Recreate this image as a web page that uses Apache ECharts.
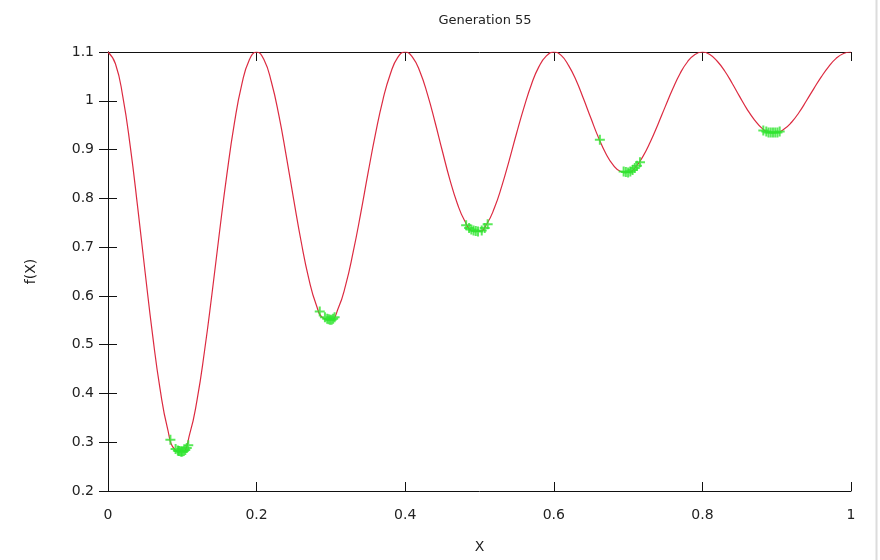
<!DOCTYPE html>
<html>
<head>
<meta charset="utf-8">
<title>Generation 55</title>
<script src="https://cdn.jsdelivr.net/npm/echarts@6/dist/echarts.min.js"></script>
<style>
  html, body { margin: 0; padding: 0; background: #fff; }
  #chart { width: 880px; height: 560px; }
</style>
</head>
<body>
<div id="chart"></div>
<script>
const curveY = [
  1.100, 1.076, 1.008, 0.906, 0.781, 0.648, 0.520, 0.410, 0.329, 0.285,
  0.281, 0.317, 0.388, 0.488, 0.605, 0.730, 0.849, 0.953, 1.033, 1.083,
  1.100, 1.084, 1.038, 0.970, 0.886, 0.797, 0.711, 0.637, 0.583, 0.554,
  0.551, 0.575, 0.623, 0.690, 0.768, 0.852, 0.932, 1.002, 1.055, 1.089,
  1.100, 1.089, 1.059, 1.013, 0.957, 0.897, 0.839, 0.790, 0.754, 0.734,
  0.732, 0.748, 0.780, 0.825, 0.878, 0.934, 0.987, 1.034, 1.070, 1.092,
  1.100, 1.093, 1.072, 1.042, 1.004, 0.964, 0.925, 0.892, 0.868, 0.855,
  0.853, 0.864, 0.886, 0.916, 0.951, 0.988, 1.024, 1.056, 1.080, 1.095,
  1.100, 1.095, 1.081, 1.061, 1.036, 1.009, 0.983, 0.961, 0.944, 0.935,
  0.935, 0.942, 0.956, 0.976, 1.000, 1.025, 1.049, 1.070, 1.087, 1.097,
  1.100
]

// population of generation 55 (green crosses)
const popX = [
  0.084, 0.091, 0.094, 0.096, 0.098, 0.100, 0.102, 0.104, 0.106, 0.108, 0.095, 0.099,
  0.285, 0.292, 0.295, 0.297, 0.299, 0.301, 0.303, 0.305,
  0.482, 0.486, 0.489, 0.492, 0.495, 0.498, 0.503, 0.507, 0.511,
  0.662,
  0.694, 0.697, 0.700, 0.703, 0.706, 0.709, 0.712, 0.716,
  0.882, 0.886, 0.889, 0.892, 0.895, 0.898, 0.901, 0.904
]
const popY = [
  0.305, 0.286, 0.283, 0.282, 0.281, 0.281, 0.282, 0.284, 0.288, 0.294, 0.282, 0.281,
  0.568, 0.556, 0.553, 0.552, 0.551, 0.551, 0.553, 0.556,
  0.745, 0.739, 0.736, 0.734, 0.733, 0.732, 0.734, 0.739, 0.747,
  0.920,
  0.855, 0.854, 0.853, 0.855, 0.858, 0.862, 0.867, 0.874,
  0.939, 0.937, 0.935, 0.935, 0.935, 0.935, 0.935, 0.937
]

const xTicks = { min: 0, max: 1, interval: 0.2 }
const yTicks = { min: 0.2, max: 1.1, interval: 0.1 }

const font = 'DejaVu Sans'
const fmt = v => String(Math.round(v * 10) / 10)

const myChart = echarts.init(document.getElementById('chart'), null, { renderer: 'canvas' })

const axisLine = { show: true, lineStyle: { color: '#111', width: 1 } }
const tick = { show: true, inside: true, length: 9, lineStyle: { color: '#111', width: 1 } }

const option = {
  animation: false,
  backgroundColor: '#fff',
  title: {
    text: 'Generation 55',
    left: 480,
    textAlign: 'center',
    top: 9,
    textStyle: { fontFamily: font, fontSize: 13, fontWeight: 'normal', color: '#222' }
  },
  grid: { left: 108, right: 29, top: 52, bottom: 69, containLabel: false },
  xAxis: [
    {
      type: 'value',
      min: xTicks.min, max: xTicks.max, interval: xTicks.interval,
      position: 'bottom',
      name: 'X',
      nameLocation: 'middle',
      nameGap: 49,
      nameTextStyle: { fontFamily: font, fontSize: 14, color: '#222' },
      axisLine: axisLine,
      axisTick: tick,
      splitLine: { show: false },
      axisLabel: { fontFamily: font, fontSize: 14, color: '#222', margin: 17, formatter: fmt }
    },
    {
      type: 'value',
      min: xTicks.min, max: xTicks.max, interval: xTicks.interval,
      position: 'top',
      axisLine: axisLine,
      axisTick: tick,
      splitLine: { show: false },
      axisLabel: { show: false }
    }
  ],
  yAxis: [
    {
      type: 'value',
      min: yTicks.min, max: yTicks.max, interval: yTicks.interval,
      position: 'left',
      name: 'f(X)',
      nameLocation: 'middle',
      nameGap: 70,
      nameTextStyle: { fontFamily: font, fontSize: 14, color: '#222' },
      axisLine: axisLine,
      axisTick: tick,
      splitLine: { show: false },
      axisLabel: { fontFamily: font, fontSize: 14, color: '#222', margin: 14, formatter: fmt }
    },
    {
      type: 'value',
      min: yTicks.min, max: yTicks.max, interval: yTicks.interval,
      position: 'right',
      axisLine: axisLine,
      axisTick: tick,
      splitLine: { show: false },
      axisLabel: { show: false }
    }
  ],
  graphic: [
    {
      // faint frame edge on the right of the screenshot
      type: 'line',
      shape: { x1: 876.5, y1: 0, x2: 876.5, y2: 560 },
      style: { stroke: '#dcdcdc', lineWidth: 2 },
      silent: true
    }
  ],
  series: [
    {
      name: 'f(x)',
      type: 'line',
      xAxisIndex: 0,
      yAxisIndex: 0,
      smooth: true,
      showSymbol: false,
      lineStyle: { color: '#dc2a40', width: 1.2 },
      data: curveY.map((y, i) => [i / 100, y]),
      z: 2
    },
    {
      name: 'population',
      type: 'scatter',
      xAxisIndex: 0,
      yAxisIndex: 0,
      symbol: 'path://M4,0h2v10h-2zM0,4h10v2h-10z',
      symbolSize: 10,
      itemStyle: { color: '#2fe52f' },
      data: popX.map((x, i) => [x, popY[i]]),
      z: 3
    }
  ]
}

myChart.setOption(option)
window.addEventListener('resize', () => { myChart.resize() })
</script>
</body>
</html>
